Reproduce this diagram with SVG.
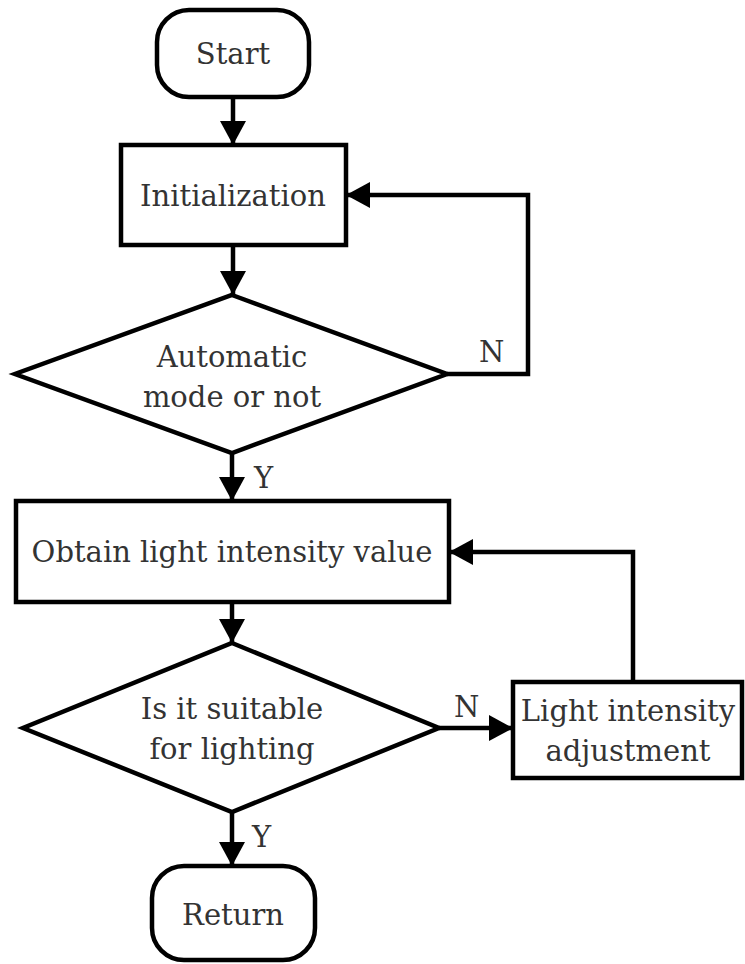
<svg xmlns="http://www.w3.org/2000/svg" width="745" height="964" viewBox="0 0 745 964">
  <style>
    .shape { fill: #ffffff; stroke: #000000; stroke-width: 4.5; }
    .label { font-family: "DejaVu Serif", "Liberation Serif", serif; font-size: 29px; fill: #333333; text-anchor: middle; }
    .tag { font-family: "DejaVu Serif", "Liberation Serif", serif; font-size: 29px; fill: #333333; }
    .wire { fill: none; stroke: #000000; stroke-width: 4.5; marker-end: url(#arrow); }
  </style>
  <defs>
    <marker id="arrow" markerUnits="userSpaceOnUse" markerWidth="26" markerHeight="28" refX="24" refY="13" orient="auto">
      <path d="M0,0 L24,13 L0,26 Z" fill="#000000"/>
    </marker>
  </defs>
  <rect width="745" height="964" fill="#ffffff"/>

  <g id="start">
    <rect class="shape" x="157" y="10" width="152" height="87" rx="32" ry="32"/>
    <text class="label" x="233" y="64">Start</text>
  </g>

  <g id="init">
    <rect class="shape" x="121" y="145" width="225" height="100"/>
    <text class="label" x="233" y="206">Initialization</text>
  </g>

  <g id="auto-mode">
    <polygon class="shape" points="232,295 447,374 232,453 15,374"/>
    <text class="label" x="232" y="367">Automatic</text>
    <text class="label" x="232" y="407">mode or not</text>
  </g>

  <g id="obtain">
    <rect class="shape" x="16" y="501" width="433" height="101"/>
    <text class="label" x="232" y="562">Obtain light intensity value</text>
  </g>

  <g id="suitable">
    <polygon class="shape" points="232,643 439,728 232,812 23,728"/>
    <text class="label" x="232" y="719">Is it suitable</text>
    <text class="label" x="232" y="759">for lighting</text>
  </g>

  <g id="adjust">
    <rect class="shape" x="513" y="682" width="229" height="96"/>
    <text class="label" x="628" y="721">Light intensity</text>
    <text class="label" x="628" y="761">adjustment</text>
  </g>

  <g id="return">
    <rect class="shape" x="152" y="866" width="163" height="94" rx="32" ry="32"/>
    <text class="label" x="233" y="925">Return</text>
  </g>

  <g id="connectors">
    <path class="wire" d="M233,97 L233,145"/>
    <path class="wire" d="M233,245 L233,295"/>
    <path class="wire" d="M447,374 L528,374 L528,195 L346,195"/>
    <path class="wire" d="M232,453 L232,501"/>
    <path class="wire" d="M232,602 L232,643"/>
    <path class="wire" d="M439,728 L513,728"/>
    <path class="wire" d="M633,682 L633,552 L449,552"/>
    <path class="wire" d="M232,812 L232,866"/>
    <text class="tag" x="479" y="362">N</text>
    <text class="tag" x="254" y="488">Y</text>
    <text class="tag" x="454" y="717">N</text>
    <text class="tag" x="252" y="847">Y</text>
  </g>
</svg>
